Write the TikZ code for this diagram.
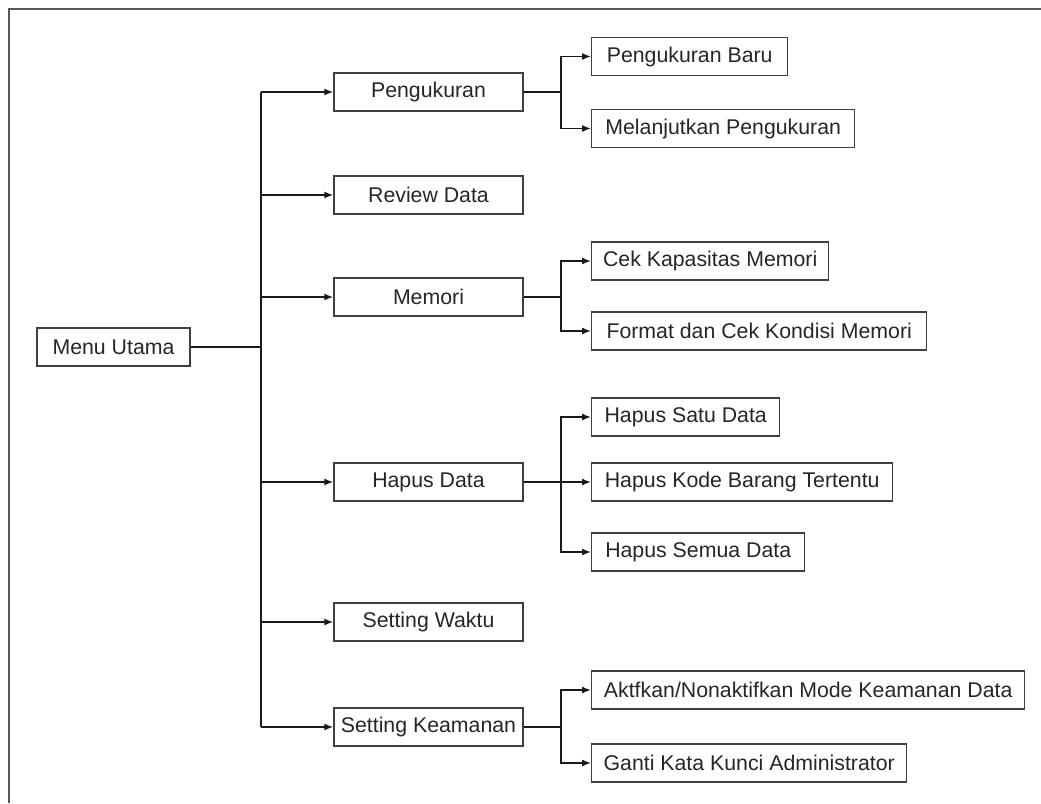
\documentclass[tikz,border=0pt]{standalone}
\usepackage{fontspec}
\setmainfont{Liberation Sans}
\usetikzlibrary{arrows.meta,calc}
\begin{document}
\begin{tikzpicture}[x=1pt,y=-1pt,
  box/.style={draw=black!75,line width=1.4pt,fill=white,inner sep=0pt,minimum height=38pt,
    font=\fontsize{21.3}{25}\selectfont,text=black!85},
  mid/.style={box,minimum width=189pt},
  leaf/.style={box,anchor=west},
  conn/.style={line width=1.5pt,black!90},
  arr/.style={conn,-{Latex[length=9pt,width=7pt]}},
  frameline/.style={line width=2pt,black!65}]
\useasboundingbox (0,0) rectangle (1041,803);
\draw[frameline] (9,803) -- (9,9) -- (1041,9);

\node[box,minimum width=153pt] (mu) at (113.5,347) {Menu Utama};

\node[mid] (p1) at (428.5,92) {Pengukuran};
\node[mid] (p2) at (428.5,195) {Review Data};
\node[mid] (p3) at (428.5,297) {Memori};
\node[mid] (p4) at (428.5,482) {Hapus Data};
\node[mid] (p5) at (428.5,622) {Setting Waktu};
\node[mid] (p6) at (428.5,727) {Setting Keamanan};

\node[leaf,minimum width=196pt] (a1) at (591,56.5) {Pengukuran Baru};
\node[leaf,minimum width=263pt] (a2) at (591,128.5) {Melanjutkan Pengukuran};
\node[leaf,minimum width=237pt] (b1) at (591,261) {Cek Kapasitas Memori};
\node[leaf,minimum width=335pt] (b2) at (591,331) {Format dan Cek Kondisi Memori};
\node[leaf,minimum width=188pt] (c1) at (591,417) {Hapus Satu Data};
\node[leaf,minimum width=301pt] (c2) at (591,482) {Hapus Kode Barang Tertentu};
\node[leaf,minimum width=213pt] (c3) at (591,552) {Hapus Semua Data};
\node[leaf,minimum width=433pt] (d1) at (591,690) {Aktfkan/Nonaktifkan Mode Keamanan Data};
\node[leaf,minimum width=315pt] (d2) at (591,763) {Ganti Kata Kunci Administrator};

\coordinate (trunk) at (261,0);
\coordinate (br) at (561,0);

% main trunk
\draw[conn,line width=2.2pt] (mu.east) -- (trunk |- mu.east);
\draw[conn] (trunk |- p1.west) -- (trunk |- p6.west);
\foreach \n in {p1,p2,p3,p4,p5,p6}
  \draw[arr] (trunk |- \n.west) -- (\n.west);

% branches
\foreach \p/\c in {p1/a1,p1/a2,p3/b1,p3/b2,p4/c1,p4/c2,p4/c3,p6/d1,p6/d2}
  \draw[arr] (\p.east) -- (br |- \p.east) |- (\c.west);
\end{tikzpicture}
\end{document}
